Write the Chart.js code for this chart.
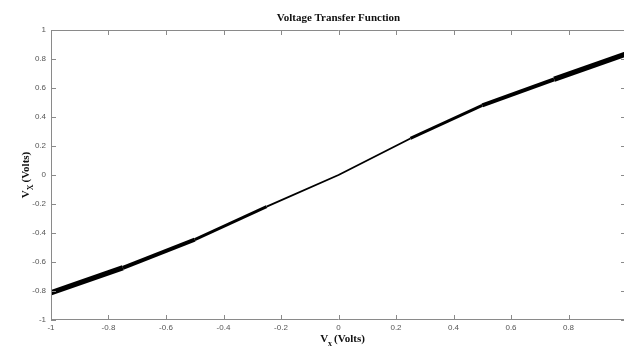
<!DOCTYPE html>
<html>
<head>
<meta charset="utf-8">
<script src="https://cdn.jsdelivr.net/npm/chart.js@4/dist/chart.umd.min.js"></script>
<style>
  html, body { margin: 0; padding: 0; background: #fff; overflow: hidden; }
  #wrap { width: 630px; height: 347px; }
</style>
</head>
<body>
<div id="wrap"><canvas id="myChart" width="630" height="347"></canvas></div>
<script>
// input voltage (x) and output voltage (y)
var vsValues = [-1, -0.75, -0.5, -0.25, 0, 0.25, 0.5, 0.75, 1];
var vxValues = [-0.812, -0.64, -0.446, -0.218, 0, 0.252, 0.48, 0.66, 0.835];

var xTicks = [-1, -0.8, -0.6, -0.4, -0.2, 0, 0.2, 0.4, 0.6, 0.8, 1];
var yTicks = [-1, -0.8, -0.6, -0.4, -0.2, 0, 0.2, 0.4, 0.6, 0.8, 1];

var titleText = 'Voltage Transfer Function';

var points = vsValues.map(function (v, i) { return { x: v, y: vxValues[i] }; });

var axisGray = '#8a8a8a';
var serif = '"Liberation Serif", "Times New Roman", serif';

// box, inward tick marks, title and axis titles (matlab style)
var matlabFrame = {
  id: 'matlabFrame',
  afterDraw: function (chart) {
    var c = chart.ctx, a = chart.chartArea;
    var xs = chart.scales.x, ys = chart.scales.y;
    c.save();
    c.strokeStyle = axisGray;
    c.lineWidth = 1;
    c.beginPath();
    c.rect(a.left + 0.5, a.top + 0.5, a.right - a.left - 1, a.bottom - a.top - 1);
    c.stroke();
    var tl = 5;
    c.beginPath();
    xTicks.forEach(function (t) {
      var px = Math.round(xs.getPixelForValue(t)) + 0.5;
      c.moveTo(px, a.bottom); c.lineTo(px, a.bottom - tl);
      c.moveTo(px, a.top); c.lineTo(px, a.top + tl);
    });
    yTicks.forEach(function (t) {
      var py = Math.round(ys.getPixelForValue(t)) + 0.5;
      c.moveTo(a.left, py); c.lineTo(a.left + tl, py);
      c.moveTo(a.right, py); c.lineTo(a.right - tl, py);
    });
    c.stroke();

    // title
    c.fillStyle = '#111';
    c.font = 'bold 11px ' + serif;
    c.textAlign = 'center';
    c.textBaseline = 'middle';
    c.fillText(titleText, (a.left + a.right) / 2, 18);

    // axis titles with subscript
    function subLabel(cx, cy, main, sub, rest) {
      c.textAlign = 'left';
      c.textBaseline = 'alphabetic';
      c.font = 'bold 11px ' + serif;
      var w1 = c.measureText(main).width;
      var w3 = c.measureText(rest).width;
      c.font = 'bold 8px ' + serif;
      var w2 = c.measureText(sub).width;
      var x0 = cx - (w1 + w2 + 2 + w3) / 2;
      c.font = 'bold 11px ' + serif;
      c.fillText(main, x0, cy);
      c.font = 'bold 8px ' + serif;
      c.fillText(sub, x0 + w1, cy + 4);
      c.font = 'bold 11px ' + serif;
      c.fillText(rest, x0 + w1 + w2 + 2, cy);
    }
    subLabel((a.left + a.right) / 2 + 4, 342, 'V', 'x', '(Volts)');
    c.translate(29, (a.top + a.bottom) / 2);
    c.rotate(-Math.PI / 2);
    subLabel(0, 0, 'V', 'X', '(Volts)');
    c.restore();
  }
};

var ctx = document.getElementById('myChart').getContext('2d');
var myChart = new Chart(ctx, {
  type: 'line',
  data: {
    datasets: [{
      label: 'Vx',
      data: points,
      borderColor: '#000',
      borderWidth: 2,
      borderCapStyle: 'butt',
      borderJoinStyle: 'round',
      pointRadius: 0,
      tension: 0,
      segment: {
        borderWidth: function (s) {
          var m = Math.abs((s.p0.parsed.x + s.p1.parsed.x) / 2);
          return 1.3 + 4.4 * m;
        }
      }
    }]
  },
  options: {
    responsive: false,
    animation: false,
    devicePixelRatio: 1,
    layout: { padding: { top: 30, right: 4, left: 0, bottom: 0 } },
    plugins: {
      legend: { display: false },
      tooltip: { enabled: false },
      title: { display: false }
    },
    scales: {
      x: {
        type: 'linear',
        min: -1,
        max: 1,
        afterBuildTicks: function (s) { s.ticks = xTicks.map(function (v) { return { value: v }; }); },
        afterFit: function (s) { s.height = 27; },
        grid: { display: false, drawTicks: false },
        border: { display: false },
        ticks: {
          padding: 3,
          maxRotation: 0,
          autoSkip: false,
          color: '#555',
          font: { family: '"Liberation Sans", Arial, sans-serif', size: 8 },
          callback: function (v) { return v === 1 ? '' : String(Math.round(v * 10) / 10); }
        }
      },
      y: {
        min: -1,
        max: 1,
        afterBuildTicks: function (s) { s.ticks = yTicks.map(function (v) { return { value: v }; }); },
        afterFit: function (s) { s.width = 51; },
        grid: { display: false, drawTicks: false },
        border: { display: false },
        ticks: {
          padding: 5,
          autoSkip: false,
          color: '#555',
          font: { family: '"Liberation Sans", Arial, sans-serif', size: 8 },
          callback: function (v) { return String(Math.round(v * 10) / 10); }
        }
      }
    }
  },
  plugins: [matlabFrame]
});
</script>
</body>
</html>
